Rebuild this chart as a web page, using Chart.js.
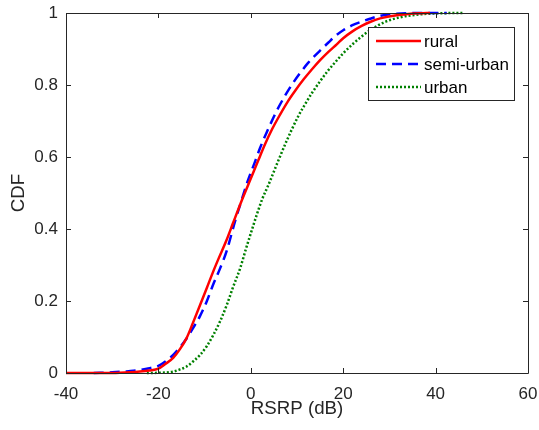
<!DOCTYPE html>
<html>
<head>
<meta charset="utf-8">
<script src="https://cdn.jsdelivr.net/npm/chart.js@4/dist/chart.umd.min.js"></script>
<style>
  body { margin: 0; background: #fff; }
  #wrap { width: 539px; height: 430px; }
</style>
</head>
<body>
<div id="wrap"><canvas id="myChart" width="539" height="430"></canvas></div>
<script>
// CDF curves (x = RSRP in dB, y = CDF)
const ruralX = [-40, -30, -26, -24, -22, -20, -18.5, -16.8, -15.3, -13.9, -12.5, -11, -9.5, -8.1, -7, -5.2, -3.8, -2, 0, 1.6, 3.1, 4.6, 6.3, 8, 9.6, 11.4, 13.2, 15, 16.8, 18.6, 20, 22, 24, 25.8, 28, 31.6, 34, 36.6, 38.8]
const ruralY = [0, 0, 0.002, 0.004, 0.007, 0.012, 0.025, 0.042, 0.067, 0.097, 0.14, 0.188, 0.237, 0.283, 0.317, 0.371, 0.418, 0.478, 0.54, 0.59, 0.636, 0.677, 0.717, 0.754, 0.784, 0.815, 0.843, 0.869, 0.892, 0.913, 0.93, 0.949, 0.964, 0.975, 0.985, 0.994, 0.997, 0.999, 1]

const semiX = [-34, -30, -27.5, -25.4, -22.5, -20, -18.4, -16.8, -15.3, -13.9, -12.5, -11, -9.5, -8.1, -6.6, -5.2, -3.4, -2, -0.7, 1, 2, 3.5, 5.6, 7.4, 8.85, 10.6, 12.45, 14, 15.35, 16.8, 18.4, 20, 22, 24, 25.8, 28, 31.6, 36, 42.4]
const semiY = [0, 0.002, 0.004, 0.006, 0.012, 0.02, 0.033, 0.05, 0.072, 0.096, 0.125, 0.158, 0.2, 0.247, 0.292, 0.34, 0.422, 0.48, 0.532, 0.59, 0.625, 0.67, 0.728, 0.77, 0.8, 0.832, 0.862, 0.883, 0.9, 0.918, 0.937, 0.952, 0.966, 0.976, 0.984, 0.992, 0.998, 1, 1]

const urbanX = [-22.5, -19, -16.8, -15.3, -13.9, -12.5, -11, -9.5, -8.1, -6.6, -5.2, -3.8, -2.3, -1, 0.5, 1.3, 2.5, 3.8, 5.8, 7.8, 10.3, 12.1, 13.2, 16.6, 18.6, 20, 22, 25.8, 29, 33, 36.5, 40.2, 46]
const urbanY = [0, 0.001, 0.004, 0.01, 0.018, 0.032, 0.05, 0.075, 0.106, 0.145, 0.189, 0.24, 0.291, 0.347, 0.408, 0.44, 0.484, 0.522, 0.585, 0.646, 0.714, 0.754, 0.777, 0.838, 0.868, 0.888, 0.913, 0.952, 0.975, 0.99, 0.996, 0.999, 1]

const seriesNames = ['rural', 'semi-urban', 'urban']
const xTicks = [-40, -20, 0, 20, 40, 60]
const yTicks = [0, 0.2, 0.4, 0.6, 0.8, 1]

const axisColor = '#262626'
Chart.defaults.font.family = '"Liberation Sans", Arial, Helvetica, sans-serif'
Chart.defaults.color = axisColor

function toPoints(xs, ys) {
  return xs.map((x, i) => ({ x: x, y: ys[i] }))
}

// no extra room for overhanging tick labels, so the plot box stays put
function noOverhang(scale) {
  scale.paddingLeft = 0
  scale.paddingRight = 0
  scale.paddingTop = 0
  scale.paddingBottom = 0
}

// matlab style box + inward ticks, drawn from the chart scales
const frame = {
  id: 'frame',
  afterDraw(chart) {
    const ctx = chart.ctx
    const a = chart.chartArea
    const xs = chart.scales.x
    const ys = chart.scales.y
    ctx.save()
    ctx.strokeStyle = axisColor
    ctx.lineWidth = 1
    ctx.beginPath()
    ctx.rect(Math.round(a.left) + 0.5, Math.round(a.top) + 0.5, Math.round(a.right - a.left), Math.round(a.bottom - a.top))
    xs.ticks.forEach(t => {
      let px = Math.round(xs.getPixelForValue(t.value)) + 0.5
      ctx.moveTo(px, a.bottom); ctx.lineTo(px, a.bottom - 5)
      ctx.moveTo(px, a.top); ctx.lineTo(px, a.top + 5)
    })
    ys.ticks.forEach(t => {
      let py = Math.round(ys.getPixelForValue(t.value)) + 0.5
      ctx.moveTo(a.left, py); ctx.lineTo(a.left + 5, py)
      ctx.moveTo(a.right, py); ctx.lineTo(a.right - 5, py)
    })
    ctx.stroke()

    // legend box
    const bx = 368.5, by = 27.5, bw = 146, bh = 73
    ctx.fillStyle = '#fff'
    ctx.fillRect(bx, by, bw, bh)
    ctx.strokeRect(bx, by, bw, bh)
    const rows = [41, 64, 87]
    chart.data.datasets.forEach((ds, i) => {
      ctx.beginPath()
      ctx.strokeStyle = ds.borderColor
      ctx.lineWidth = ds.borderWidth
      ctx.setLineDash(ds.borderDash || [])
      ctx.moveTo(376, rows[i]); ctx.lineTo(421, rows[i])
      ctx.stroke()
      ctx.setLineDash([])
      ctx.fillStyle = '#000'
      ctx.font = '17px "Liberation Sans", Arial, sans-serif'
      ctx.textBaseline = 'middle'
      ctx.textAlign = 'left'
      ctx.fillText(ds.label, 424, rows[i] + 1)
    })
    ctx.restore()
  }
}

const data = {
  datasets: [
    { label: seriesNames[0], data: toPoints(ruralX, ruralY), borderColor: '#ff0000', borderWidth: 2.5, borderDash: [] },
    { label: seriesNames[1], data: toPoints(semiX, semiY), borderColor: '#0000ff', borderWidth: 2.5, borderDash: [10, 6] },
    { label: seriesNames[2], data: toPoints(urbanX, urbanY), borderColor: '#008000', borderWidth: 2.5, borderDash: [2, 2] }
  ]
}
data.datasets.forEach(ds => {
  ds.showLine = true
  ds.pointRadius = 0
  ds.cubicInterpolationMode = 'monotone'
  ds.clip = 6
  ds.borderCapStyle = 'butt'
})

const config = {
  type: 'scatter',
  data,
  options: {
    responsive: false,
    animation: false,
    devicePixelRatio: 1,
    layout: { padding: { top: 13, right: 11, left: 0, bottom: 0 } },
    plugins: { legend: { display: false }, tooltip: { enabled: false } },
    scales: {
      x: {
        type: 'linear', min: -40, max: 60,
        afterBuildTicks(scale) { scale.ticks = xTicks.map(v => ({ value: v })) },
        afterFit(scale) { scale.height = 57; noOverhang(scale) },
        ticks: { font: { size: 17 }, color: axisColor, padding: 11, maxRotation: 0 },
        grid: { display: false, drawTicks: false },
        border: { display: false },
        title: { display: true, text: 'RSRP (dB)', font: { size: 18.7 }, color: axisColor, padding: { top: 0, bottom: 10 } }
      },
      y: {
        type: 'linear', min: 0, max: 1,
        afterBuildTicks(scale) { scale.ticks = yTicks.map(v => ({ value: v })) },
        afterFit(scale) { scale.width = 66; noOverhang(scale) },
        ticks: { font: { size: 17 }, color: axisColor, padding: 8, callback: v => String(Math.round(v * 10) / 10) },
        grid: { display: false, drawTicks: false },
        border: { display: false },
        title: { display: true, text: 'CDF', font: { size: 18.7 }, color: axisColor, padding: { top: 8, bottom: 0 } }
      }
    }
  },
  plugins: [frame]
}

var myChart = new Chart(document.getElementById('myChart'), config)
</script>
</body>
</html>
